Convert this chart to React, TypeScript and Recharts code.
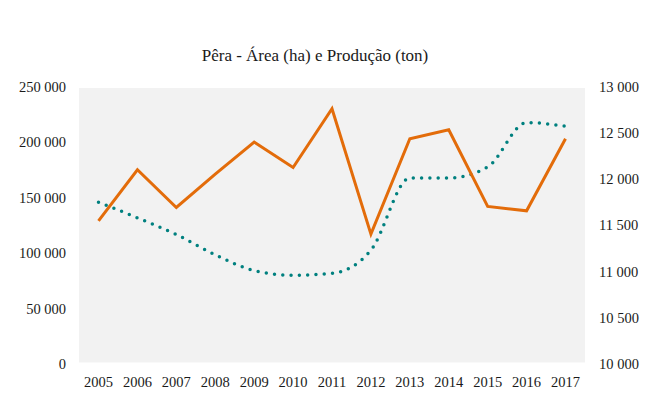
import { LineChart, Line, XAxis, YAxis, CartesianGrid } from 'recharts';

// Pêra: produção (ton, eixo esquerdo) e área (ha, eixo direito)
const years = ['2005', '2006', '2007', '2008', '2009', '2010', '2011', '2012', '2013', '2014', '2015', '2016', '2017'];
const producao = [129000, 175000, 141000, 171000, 200000, 177000, 230000, 117000, 203000, 211000, 142000, 138000, 203000];
const area = [11750, 11580, 11400, 11180, 11010, 10960, 10980, 11230, 12010, 12010, 12130, 12610, 12570];

const leftTicks = [0, 50000, 100000, 150000, 200000, 250000];
const rightTicks = [10000, 10500, 11000, 11500, 12000, 12500, 13000];

const data = years.map((y, i) => ({ year: y, producao: producao[i], area: area[i] }));

const fmt = (v: number) => v.toLocaleString('en-US').replace(/,/g, ' ');

const font = 'Liberation Serif';
const tick = { fontSize: 14.5, fill: '#1a1a1a', fontFamily: font, style: { fontFamily: font } };

export default function App() {
  return (
    <div style={{ position: 'relative', width: 660, height: 400, background: '#fff', fontFamily: font }}>
      <style>{`body{margin:0} .recharts-wrapper, .recharts-wrapper text { font-family: 'Liberation Serif', serif !important; }`}</style>
      <div
        style={{
          position: 'absolute',
          top: 46,
          left: 0,
          width: 630,
          textAlign: 'center',
          fontFamily: font,
          fontSize: 17,
          color: '#1a1a1a',
        }}
      >
        Pêra - Área (ha) e Produção (ton)
      </div>
      <LineChart
        width={660}
        height={400}
        data={data}
        margin={{ top: 86.5, right: 0, left: 0, bottom: 6 }}
        style={{ fontFamily: font }}
      >
        <CartesianGrid vertical={false} fill="#f2f2f2" stroke="#fff" strokeWidth={3} />
        <XAxis
          dataKey="year"
          axisLine={false}
          tickLine={false}
          tick={tick}
          tickMargin={7}
          height={30}
          interval={0}
          padding={{ left: 19.5, right: 19.5 }}
        />
        <YAxis
          yAxisId="left"
          domain={[0, 250000]}
          ticks={leftTicks}
          tickFormatter={fmt}
          axisLine={false}
          tickLine={false}
          tick={tick}
          tickMargin={7}
          width={79}
        />
        <YAxis
          yAxisId="right"
          orientation="right"
          domain={[10000, 13000]}
          ticks={rightTicks}
          tickFormatter={fmt}
          axisLine={false}
          tickLine={false}
          tick={{ ...tick, textAnchor: 'start' }}
          tickMargin={8}
          width={75}
        />
        <Line
          yAxisId="right"
          type="monotone"
          dataKey="area"
          stroke="#00807f"
          strokeWidth={3.5}
          strokeDasharray="0 8.3"
          strokeLinecap="round"
          dot={false}
          isAnimationActive={false}
        />
        <Line
          yAxisId="left"
          type="linear"
          dataKey="producao"
          stroke="#e36c0a"
          strokeWidth={3}
          dot={false}
          isAnimationActive={false}
        />
      </LineChart>
    </div>
  );
}
